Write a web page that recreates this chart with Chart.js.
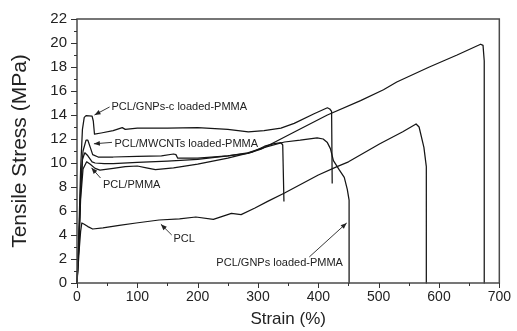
<!DOCTYPE html>
<html><head><meta charset="utf-8">
<script src="https://cdn.jsdelivr.net/npm/chart.js@4/dist/chart.umd.min.js"></script>
<style>html,body{margin:0;padding:0;background:#fff;}#wrap{width:517px;height:331px;}</style>
</head><body><div id="wrap"><canvas id="c" width="517" height="331"></canvas></div>
<script>
// ---- data (strain %, tensile stress MPa) ----
const gncStrain = [0, 3, 6, 9, 12, 15, 25, 27, 29, 40, 60, 75, 80, 100, 150, 200, 250, 284, 310, 338, 360, 393, 415, 419, 422, 423];
const gncStress = [0, 4, 9.5, 12.8, 13.8, 13.95, 13.9, 13.5, 12.4, 12.5, 12.7, 12.95, 12.8, 12.9, 12.9, 12.95, 12.8, 12.6, 12.7, 12.9, 13.3, 14.1, 14.6, 14.5, 14.3, 8.3];

const mwStrain = [0, 3, 6, 10, 15, 18, 22, 26, 35, 60, 100, 140, 160, 164, 167, 200, 250, 283, 305, 361, 415, 470, 508, 530, 584, 630, 669, 673, 675, 675];
const mwStress = [0, 3.5, 8, 11, 11.9, 11.9, 11.3, 10.7, 10.5, 10.5, 10.55, 10.6, 10.75, 10.7, 10.4, 10.4, 10.6, 10.8, 11.15, 12.6, 14.0, 15.2, 16.1, 16.75, 18.0, 19.0, 19.9, 19.8, 18.5, 0];

const gnStrain = [0, 3, 6, 9, 13, 18, 25, 30, 45, 60, 100, 150, 200, 250, 283, 311, 344, 370, 398, 408, 415, 420, 425, 435, 443, 448, 451, 451];
const gnStress = [0, 3, 7.5, 10.3, 10.85, 10.6, 10.1, 10.0, 9.95, 9.95, 10.05, 10.15, 10.3, 10.6, 10.85, 11.3, 11.75, 11.9, 12.1, 12.0, 11.7, 11.2, 10.2, 9.4, 8.8, 7.8, 6.9, 0];

const pmStrain = [0, 3, 6, 10, 16, 22, 30, 38, 60, 80, 100, 115, 130, 160, 200, 250, 290, 311, 325, 338, 341, 343];
const pmStress = [0, 3, 7, 9.5, 10.1, 9.9, 9.55, 9.4, 9.55, 9.7, 9.75, 9.6, 9.45, 9.6, 9.9, 10.4, 10.9, 11.4, 11.6, 11.7, 11.5, 6.8];

const pclStrain = [0, 2, 4, 6, 8, 12, 18, 26, 43, 70, 98, 136, 170, 197, 226, 256, 272, 295, 316, 344, 400, 431, 450, 502, 540, 562, 567, 575, 579, 579];
const pclStress = [0, 1.5, 3, 4.3, 5.0, 4.9, 4.7, 4.5, 4.6, 4.8, 5.0, 5.25, 5.35, 5.5, 5.3, 5.8, 5.7, 6.25, 6.8, 7.5, 9.0, 9.7, 10.1, 11.6, 12.6, 13.25, 13.0, 11.3, 9.7, 0];

const xTicks = [0, 100, 200, 300, 400, 500, 600, 700];
const yTicks = [0, 2, 4, 6, 8, 10, 12, 14, 16, 18, 20, 22];

// annotation labels (data units)
const labelText = ['PCL/GNPs-c loaded-PMMA', 'PCL/MWCNTs loaded-PMMA', 'PCL/PMMA', 'PCL', 'PCL/GNPs loaded-PMMA'];
const labelX = [57, 62, 43, 160, 231];
const labelY = [14.7, 11.6, 8.15, 3.67, 1.67];
const arrowFromX = [54, 58, 39, 157, 385];
const arrowFromY = [14.67, 11.72, 8.75, 4.0, 2.17];
const arrowToX = [29, 28, 24, 139, 447];
const arrowToY = [14.0, 11.6, 9.6, 4.9, 5.0];

function zip(xs, ys) { return xs.map((x, i) => ({x: x, y: ys[i]})); }

const series = [
  {label: 'PCL/GNPs-c loaded-PMMA', xs: gncStrain, ys: gncStress},
  {label: 'PCL/MWCNTs loaded-PMMA', xs: mwStrain, ys: mwStress},
  {label: 'PCL/GNPs loaded-PMMA', xs: gnStrain, ys: gnStress},
  {label: 'PCL/PMMA', xs: pmStrain, ys: pmStress},
  {label: 'PCL', xs: pclStrain, ys: pclStress}
];

const FONT = "'Liberation Sans', Arial, Helvetica, sans-serif";

const framePlugin = {
  id: 'frame',
  afterDraw(chart) {
    const {ctx, chartArea: a, scales} = chart;
    ctx.save();
    ctx.strokeStyle = '#4a4a4a';
    ctx.lineWidth = 1.5;
    ctx.strokeRect(a.left, a.top, a.right - a.left, a.bottom - a.top);
    // ticks (major + minor), outward
    ctx.strokeStyle = '#333';
    ctx.lineWidth = 1;
    const xs = scales.x, ys = scales.y;
    for (let v = 0; v <= 700; v += 50) {
      const px = Math.round(xs.getPixelForValue(v)) + 0.5;
      const len = xTicks.includes(v) ? 5 : 3;
      ctx.beginPath(); ctx.moveTo(px, a.bottom); ctx.lineTo(px, a.bottom + len); ctx.stroke();
    }
    for (let v = 0; v <= 22; v += 1) {
      const py = Math.round(ys.getPixelForValue(v)) + 0.5;
      const len = yTicks.includes(v) ? 6 : 3;
      ctx.beginPath(); ctx.moveTo(a.left, py); ctx.lineTo(a.left - len, py); ctx.stroke();
    }
    // annotations
    ctx.fillStyle = '#222';
    ctx.strokeStyle = '#222';
    ctx.font = '11px ' + FONT;
    ctx.textBaseline = 'middle';
    ctx.textAlign = 'left';
    for (let i = 0; i < labelText.length; i++) {
      ctx.fillText(labelText[i], xs.getPixelForValue(labelX[i]), ys.getPixelForValue(labelY[i]));
      const x1 = xs.getPixelForValue(arrowFromX[i]), y1 = ys.getPixelForValue(arrowFromY[i]);
      const x2 = xs.getPixelForValue(arrowToX[i]), y2 = ys.getPixelForValue(arrowToY[i]);
      ctx.lineWidth = 0.9;
      ctx.beginPath(); ctx.moveTo(x1, y1); ctx.lineTo(x2, y2); ctx.stroke();
      const ang = Math.atan2(y2 - y1, x2 - x1);
      const L = 6, W = 2.4;
      ctx.beginPath();
      ctx.moveTo(x2, y2);
      ctx.lineTo(x2 - L * Math.cos(ang) + W * Math.sin(ang), y2 - L * Math.sin(ang) - W * Math.cos(ang));
      ctx.lineTo(x2 - L * Math.cos(ang) - W * Math.sin(ang), y2 - L * Math.sin(ang) + W * Math.cos(ang));
      ctx.closePath(); ctx.fill();
    }
    ctx.restore();
  }
};

new Chart(document.getElementById('c'), {
  type: 'scatter',
  data: {
    datasets: series.map(s => ({
      label: s.label,
      data: zip(s.xs, s.ys),
      showLine: true,
      borderColor: '#151515',
      backgroundColor: '#151515',
      borderWidth: 1.25,
      pointRadius: 0,
      tension: 0,
      borderJoinStyle: 'round',
      clip: false
    }))
  },
  options: {
    responsive: false,
    animation: false,
    devicePixelRatio: 1,
    layout: {padding: {top: 18, right: 13, left: 0, bottom: 0}},
    plugins: {legend: {display: false}, tooltip: {enabled: false}},
    scales: {
      x: {
        type: 'linear', min: 0, max: 700,
        afterBuildTicks: (s) => { s.ticks = xTicks.map(v => ({value: v})); },
        afterFit: (s) => { s.height = 48; },
        grid: {display: false, drawTicks: false, tickLength: 0},
        border: {display: false},
        ticks: {autoSkip: false, maxRotation: 0, padding: 6, color: '#222', font: {family: FONT, size: 14}},
        title: {display: true, text: 'Strain (%)', color: '#222', font: {family: FONT, size: 17}, padding: {top: 0, bottom: 1}}
      },
      y: {
        type: 'linear', min: 0, max: 22,
        afterBuildTicks: (s) => { s.ticks = yTicks.map(v => ({value: v})); },
        afterFit: (s) => { s.width = 77; },
        grid: {display: false, drawTicks: false, tickLength: 0},
        border: {display: false},
        ticks: {autoSkip: false, padding: 10, color: '#222', font: {family: FONT, size: 15}},
        title: {display: true, text: 'Tensile Stress (MPa)', color: '#222', font: {family: FONT, size: 21}, padding: {top: 8, bottom: 0}}
      }
    }
  },
  plugins: [framePlugin]
});
</script>
</body></html>
